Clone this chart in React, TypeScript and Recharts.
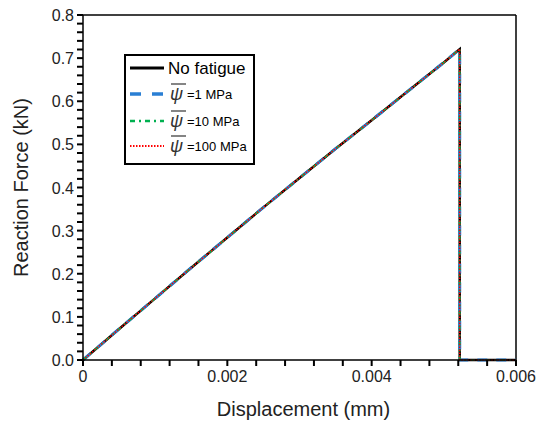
import React from 'react';
import {
  LineChart, Line, XAxis, YAxis, ReferenceLine, Legend,
} from 'recharts';

// displacement (mm) and reaction force (kN)
const displacement = [0, 0.0005, 0.001, 0.0015, 0.002, 0.0025, 0.003, 0.0035, 0.004, 0.0045, 0.005, 0.00522, 0.00522, 0.0055, 0.006];
const forceNoFatigue = [0, 0.072, 0.143, 0.214, 0.284, 0.354, 0.422, 0.49, 0.556, 0.623, 0.69, 0.721, 0, 0, 0];
const force1MPa = [0, 0.072, 0.143, 0.214, 0.284, 0.354, 0.422, 0.49, 0.556, 0.623, 0.69, 0.721, 0, 0, 0];
const force10MPa = [0, 0.072, 0.143, 0.214, 0.284, 0.354, 0.422, 0.49, 0.556, 0.623, 0.69, 0.721, 0, 0, 0];
const force100MPa = [0, 0.072, 0.143, 0.214, 0.284, 0.354, 0.422, 0.49, 0.556, 0.623, 0.69, 0.721, 0, 0, 0];

const xMajor = [0, 0.002, 0.004, 0.006];
const xLabels = ['0', '0.002', '0.004', '0.006'];
const xTicks = [0, 0.0004, 0.0008, 0.0012, 0.0016, 0.002, 0.0024, 0.0028, 0.0032, 0.0036, 0.004, 0.0044, 0.0048, 0.0052, 0.0056, 0.006];
const yMajor = [0, 0.1, 0.2, 0.3, 0.4, 0.5, 0.6, 0.7, 0.8];
const yLabels = ['0.0', '0.1', '0.2', '0.3', '0.4', '0.5', '0.6', '0.7', '0.8'];
const yTicks = Array.from({ length: 41 }, (_, i) => +(i * 0.02).toFixed(2));

const data = displacement.map((d, i) => ({
  disp: d,
  f0: forceNoFatigue[i],
  f1: force1MPa[i],
  f10: force10MPa[i],
  f100: force100MPa[i],
}));

const FONT = '"Liberation Sans", Arial, sans-serif';

const series = [
  { key: 'f0', name: 'No fatigue', color: '#000000', width: 2.5, dash: undefined as string | undefined },
  { key: 'f1', name: '=1 MPa', color: '#2A7FD4', width: 3, dash: '10 9' },
  { key: 'f10', name: '=10 MPa', color: '#00B050', width: 2, dash: '5 4 2 4' },
  { key: 'f100', name: '=100 MPa', color: '#FF0000', width: 1.5, dash: '1.5 1.5' },
];

const majorLabel = (v: number, majors: number[], labels: string[]) => {
  const i = majors.findIndex(m => Math.abs(m - v) < 1e-9);
  return i >= 0 ? labels[i] : null;
};

// every tick (major + minor) gets an outward mark, only majors get a label
const XTick = ({ x, y, payload }: any) => {
  const lbl = majorLabel(payload.value, xMajor, xLabels);
  return (
    <g>
      <rect x={x - 1} y={y - 6} width={2} height={6} fill="#000" />
      {lbl && <text x={x} y={y} dy={16} textAnchor="middle" fontSize={16} fill="#222" fontFamily={FONT}>{lbl}</text>}
    </g>
  );
};

const YTick = ({ x, y, payload }: any) => {
  const lbl = majorLabel(payload.value, yMajor, yLabels);
  return (
    <g>
      <rect x={x} y={y - 1} width={6} height={2} fill="#000" />
      {lbl && <text x={x} y={y} dx={-3} dy={6} textAnchor="end" fontSize={16} fill="#222" fontFamily={FONT}>{lbl}</text>}
    </g>
  );
};

const rowY = [14, 40, 67, 92];

const LegendBox = () => (
  <svg width={131} height={111} style={{ display: 'block' }}>
    <rect x={1} y={1} width={129} height={109} fill="#fff" stroke="#000" strokeWidth={2} />
    {series.map((s, i) => (
      <g key={s.key}>
        <line x1={6} x2={40} y1={rowY[i]} y2={rowY[i]} stroke={s.color} strokeWidth={i === 0 ? 3 : s.width + 0.5}
          strokeDasharray={i === 1 ? '11 11' : s.dash} />
        {i === 0 ? (
          <text x={44} y={rowY[i] + 6} fontSize={17} fontFamily={FONT} fill="#000">{s.name}</text>
        ) : (
          <g>
            <text x={46} y={rowY[i] + 6} fontSize={18} fontStyle="italic" fontFamily={FONT} fill="#333">ψ</text>
            <line x1={47} x2={62} y1={rowY[i] - 10} y2={rowY[i] - 10} stroke="#333" strokeWidth={1.2} />
            <text x={63} y={rowY[i] + 5} fontSize={13} fontFamily={FONT} fill="#000">{s.name}</text>
          </g>
        )}
      </g>
    ))}
  </svg>
);

export default function App() {
  return (
    <div style={{ position: 'absolute', left: 0, top: 0, background: '#fff', fontFamily: FONT }}>
      <LineChart width={540} height={425} data={data} margin={{ top: 15, right: 24, bottom: 0, left: 0 }}>
        <XAxis
          dataKey="disp" type="number" domain={[0, 0.006]} ticks={xTicks} interval={0}
          tick={<XTick />} tickLine={false} tickSize={6} tickMargin={0} height={65}
          axisLine={{ stroke: '#000', strokeWidth: 1.5 }}
          label={{ value: 'Displacement (mm)', position: 'insideBottom', offset: 9, dx: 4, fontSize: 20, fill: '#222', fontFamily: FONT }}
        />
        <YAxis
          type="number" domain={[0, 0.8]} ticks={yTicks} interval={0}
          tick={<YTick />} tickLine={false} tickSize={6} tickMargin={0} width={83}
          axisLine={{ stroke: '#000', strokeWidth: 1.5 }}
          label={{ value: 'Reaction Force (kN)', angle: -90, position: 'center', dx: -21, fontSize: 20, fill: '#222', fontFamily: FONT }}
        />
        <ReferenceLine y={0.8} stroke="#000" strokeWidth={1.5} />
        <ReferenceLine x={0.006} stroke="#000" strokeWidth={1.5} />
        {series.map(s => (
          <Line key={s.key} dataKey={s.key} name={s.name} type="linear" stroke={s.color} strokeWidth={s.width}
            strokeDasharray={s.dash} dot={false} activeDot={false} isAnimationActive={false} />
        ))}
        <Legend layout="vertical" verticalAlign="middle" align="center" content={<LegendBox />}
          wrapperStyle={{ left: 124, top: 54, width: 131, height: 111 }} />
      </LineChart>
    </div>
  );
}
